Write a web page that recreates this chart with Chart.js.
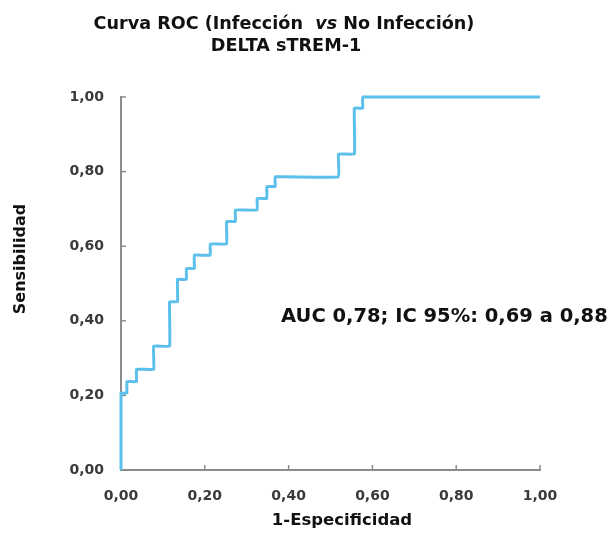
<!DOCTYPE html>
<html>
<head>
<meta charset="utf-8">
<script src="https://cdn.jsdelivr.net/npm/chart.js@4/dist/chart.umd.min.js"></script>
<style>
  html, body { margin: 0; padding: 0; background: #fff; }
  #wrap { width: 609px; height: 539px; }
</style>
</head>
<body>
<div id="wrap"><canvas id="rocChart"></canvas></div>
<script>
// ROC curve vertices (1 - specificity, sensitivity)
const fpr = [0, 0, 0.014, 0.014, 0.037, 0.037, 0.078, 0.078, 0.116, 0.116,
  0.135, 0.135, 0.156, 0.156, 0.175, 0.175, 0.213, 0.213, 0.252, 0.252,
  0.273, 0.273, 0.325, 0.325, 0.348, 0.348, 0.368, 0.368, 0.519, 0.519,
  0.557, 0.557, 0.577, 0.577, 1];
const tpr = [0, 0.206, 0.206, 0.237, 0.237, 0.27, 0.27, 0.332, 0.332, 0.451,
  0.451, 0.511, 0.511, 0.54, 0.54, 0.576, 0.576, 0.606, 0.606, 0.666,
  0.666, 0.697, 0.697, 0.728, 0.728, 0.76, 0.76, 0.786, 0.786, 0.847,
  0.847, 0.97, 0.97, 1, 1];
const tickValues = [0, 0.2, 0.4, 0.6, 0.8, 1];
const aucLabel = "AUC 0,78; IC 95%: 0,69 a 0,88";
const xTitle = "1-Especificidad";
const yTitle = "Sensibilidad";

const FONT = "'DejaVu Sans', Verdana, sans-serif";
const fmt = v => v.toFixed(2).replace(".", ",");

// Heading, axis titles and AUC note
const labelsPlugin = {
  id: "labels",
  afterDraw(chart) {
    const ctx = chart.ctx;
    const cx = 284;
    const parts = [
      ["bold", "Curva ROC (Infección  "],
      ["italic bold", "vs"],
      ["bold", " No Infección)"]
    ];
    ctx.save();
    ctx.fillStyle = "#111";
    ctx.textBaseline = "middle";
    let total = 0;
    parts.forEach(p => { ctx.font = p[0] + " 17.6px " + FONT; total += ctx.measureText(p[1]).width; });
    let x = cx - total / 2;
    ctx.textAlign = "left";
    parts.forEach(p => {
      ctx.font = p[0] + " 17.6px " + FONT;
      ctx.fillText(p[1], x, 24);
      x += ctx.measureText(p[1]).width;
    });
    ctx.font = "bold 17.6px " + FONT;
    ctx.textAlign = "center";
    ctx.fillText("DELTA sTREM-1", cx + 2, 46);

    // axis titles
    ctx.font = "bold 16.5px " + FONT;
    ctx.fillText(xTitle, 342, 521);
    ctx.save();
    ctx.translate(21, 259);
    ctx.rotate(-Math.PI / 2);
    ctx.font = "bold 16px " + FONT;
    ctx.fillText(yTitle, 0, 0);
    ctx.restore();

    // AUC annotation, anchored in data space
    const sx = chart.scales.x, sy = chart.scales.y;
    ctx.textAlign = "left";
    ctx.font = "bold 19.5px " + FONT;
    ctx.fillText(aucLabel, sx.getPixelForValue(0.382), sy.getPixelForValue(0.41));
    ctx.restore();
  }
};

// Short tick marks pointing into the plot area
const innerTicks = {
  id: "innerTicks",
  beforeDatasetsDraw(chart) {
    const { ctx, scales: { x, y } } = chart;
    ctx.save();
    ctx.strokeStyle = "#8c8c8c";
    ctx.lineWidth = 1.5;
    tickValues.forEach(v => {
      const px = x.getPixelForValue(v), py = y.getPixelForValue(v);
      ctx.beginPath(); ctx.moveTo(px, x.top); ctx.lineTo(px, x.top - 5); ctx.stroke();
      ctx.beginPath(); ctx.moveTo(y.right, py); ctx.lineTo(y.right + 5, py); ctx.stroke();
    });
    ctx.restore();
  }
};

const axisTick = {
  color: "#3a3a3a",
  font: { family: FONT, size: 14, weight: "bold" },
  stepSize: 0.2,
  callback: v => fmt(v)
};

const ctx = document.getElementById("rocChart").getContext("2d");
new Chart(ctx, {
  type: "scatter",
  data: {
    datasets: [{
      data: fpr.map((v, i) => ({ x: v, y: tpr[i] })),
      showLine: true,
      borderColor: "#5bc0eb",
      borderWidth: 3,
      borderJoinStyle: "round",
      pointRadius: 0,
      tension: 0.07,
      clip: 6
    }]
  },
  options: {
    responsive: true,
    maintainAspectRatio: false,
    animation: false,
    layout: { padding: { top: 97, right: 69, left: 0, bottom: 0 } },
    plugins: { legend: { display: false }, tooltip: { enabled: false } },
    scales: {
      x: {
        type: "linear", min: 0, max: 1,
        grid: { display: false, drawTicks: false },
        border: { display: true, color: "#8c8c8c", width: 2 },
        ticks: { ...axisTick, padding: 18 },
        afterFit: s => { s.height = 69; }
      },
      y: {
        type: "linear", min: 0, max: 1,
        grid: { display: false, drawTicks: false },
        border: { display: true, color: "#8c8c8c", width: 2 },
        ticks: { ...axisTick, padding: 17 },
        afterFit: s => { s.width = 121; }
      }
    }
  },
  plugins: [innerTicks, labelsPlugin]
});
</script>
</body>
</html>
